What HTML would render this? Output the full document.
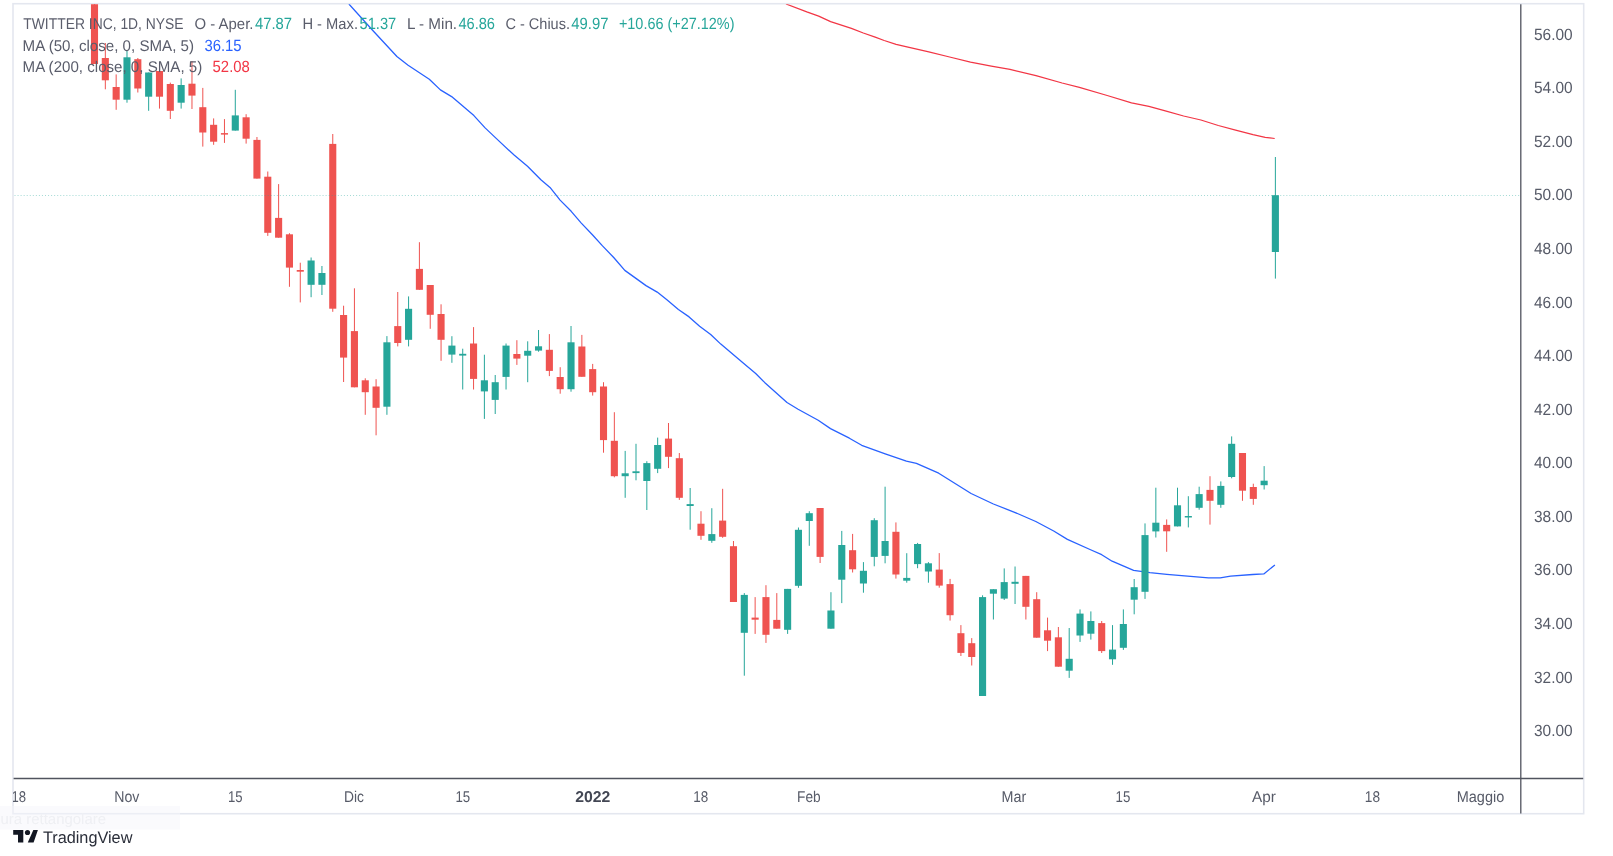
<!DOCTYPE html>
<html><head><meta charset="utf-8"><title>TWITTER INC chart</title>
<style>html,body{margin:0;padding:0;background:#fff;}body{width:1613px;height:856px;overflow:hidden;}svg{display:block;}text{font-family:"Liberation Sans",sans-serif;text-rendering:geometricPrecision;}</style></head><body>
<svg width="1613" height="856" viewBox="0 0 1613 856">
<rect x="0" y="0" width="1613" height="856" fill="#ffffff"/>
<defs><clipPath id="plot"><rect x="13.5" y="4.2" width="1506.5" height="774"/></clipPath><clipPath id="xclip"><rect x="13.6" y="779" width="1507" height="34"/></clipPath></defs>
<rect x="13" y="3.7" width="1570.7" height="810" fill="none" stroke="#e4e7ef" stroke-width="1.6"/>
<g clip-path="url(#plot)">
<polyline fill="none" stroke="#2962ff" stroke-width="1.3" stroke-linejoin="round" points="348.9,4.0 373.5,31.2 396.9,56.5 408.1,65.2 429.3,79.2 440.4,89.9 451.6,96.6 473.9,115.6 485.1,127.9 496.2,138.4 514.1,155.1 527.5,166.3 540.9,179.7 550.0,187.4 560.1,200.1 571.2,211.3 581.3,223.1 592.4,234.7 602.5,245.9 613.7,257.5 624.8,270.4 634.9,277.6 646.0,285.6 657.2,292.1 667.2,300.1 678.4,309.5 689.1,316.9 699.6,326.2 710.7,334.5 720.8,344.1 742.3,362.3 755.7,373.5 764.6,382.4 787.0,402.5 798.1,409.2 818.2,420.3 830.5,428.6 849.4,438.2 861.7,445.3 885.2,453.8 906.4,461.2 916.4,463.4 938.7,473.2 971.1,493.5 993.4,504.0 1014.6,512.3 1035.8,521.5 1053.7,531.0 1067.4,539.4 1090.0,549.5 1101.7,554.7 1112.1,561.2 1133.6,570.4 1149.9,572.6 1166.8,574.3 1187.6,576.2 1208.5,577.9 1220.2,577.9 1230.6,576.2 1252.7,574.5 1263.8,573.9 1274.9,564.9"/>
<polyline fill="none" stroke="#f23645" stroke-width="1.25" stroke-linejoin="round" points="786.0,4.0 806.8,11.9 818.7,16.1 830.6,21.6 851.4,28.3 863.3,33.0 875.2,37.2 884.2,40.5 896.1,44.3 908.0,47.2 928.8,51.8 949.6,57.0 970.5,62.2 991.3,66.2 1010.0,69.4 1036.0,75.7 1062.1,83.0 1079.4,87.3 1107.2,95.5 1131.5,102.9 1148.9,106.4 1166.2,111.1 1183.6,116.0 1200.9,120.0 1218.3,125.5 1235.6,130.2 1253.0,134.7 1265.2,137.3 1274.7,138.5"/>
<rect x="94.00" y="4.0" width="1.00" height="60.0" fill="#ef5350"/>
<rect x="90.95" y="4.0" width="7.10" height="60.0" fill="#ef5350"/>
<rect x="104.83" y="43.0" width="1.00" height="46.3" fill="#ef5350"/>
<rect x="101.78" y="58.0" width="7.10" height="22.3" fill="#ef5350"/>
<rect x="115.66" y="74.4" width="1.00" height="35.4" fill="#ef5350"/>
<rect x="112.61" y="87.0" width="7.10" height="12.7" fill="#ef5350"/>
<rect x="126.49" y="51.0" width="1.00" height="51.7" fill="#26a69a"/>
<rect x="123.44" y="57.3" width="7.10" height="42.4" fill="#26a69a"/>
<rect x="137.32" y="58.0" width="1.00" height="34.5" fill="#ef5350"/>
<rect x="134.27" y="59.2" width="7.10" height="29.3" fill="#ef5350"/>
<rect x="148.15" y="72.5" width="1.00" height="38.3" fill="#26a69a"/>
<rect x="145.10" y="72.5" width="7.10" height="24.2" fill="#26a69a"/>
<rect x="158.98" y="63.2" width="1.00" height="45.4" fill="#ef5350"/>
<rect x="155.93" y="71.0" width="7.10" height="25.7" fill="#ef5350"/>
<rect x="169.81" y="82.6" width="1.00" height="36.4" fill="#ef5350"/>
<rect x="166.76" y="84.0" width="7.10" height="26.8" fill="#ef5350"/>
<rect x="180.64" y="78.4" width="1.00" height="30.2" fill="#26a69a"/>
<rect x="177.59" y="85.0" width="7.10" height="17.7" fill="#26a69a"/>
<rect x="191.47" y="61.0" width="1.00" height="48.0" fill="#ef5350"/>
<rect x="188.42" y="83.7" width="7.10" height="11.9" fill="#ef5350"/>
<rect x="202.30" y="87.9" width="1.00" height="58.7" fill="#ef5350"/>
<rect x="199.25" y="107.2" width="7.10" height="25.3" fill="#ef5350"/>
<rect x="213.13" y="118.4" width="1.00" height="26.4" fill="#ef5350"/>
<rect x="210.08" y="124.8" width="7.10" height="16.9" fill="#ef5350"/>
<rect x="223.96" y="119.1" width="1.00" height="23.8" fill="#ef5350"/>
<rect x="220.91" y="133.1" width="7.10" height="1.5" fill="#ef5350"/>
<rect x="234.79" y="89.8" width="1.00" height="40.8" fill="#26a69a"/>
<rect x="231.74" y="115.4" width="7.10" height="15.2" fill="#26a69a"/>
<rect x="245.62" y="114.2" width="1.00" height="29.4" fill="#ef5350"/>
<rect x="242.57" y="117.3" width="7.10" height="21.4" fill="#ef5350"/>
<rect x="256.45" y="137.0" width="1.00" height="41.6" fill="#ef5350"/>
<rect x="253.40" y="139.9" width="7.10" height="38.7" fill="#ef5350"/>
<rect x="267.28" y="171.5" width="1.00" height="64.4" fill="#ef5350"/>
<rect x="264.23" y="176.7" width="7.10" height="56.1" fill="#ef5350"/>
<rect x="278.11" y="184.1" width="1.00" height="53.6" fill="#ef5350"/>
<rect x="275.06" y="217.9" width="7.10" height="19.8" fill="#ef5350"/>
<rect x="288.94" y="233.2" width="1.00" height="53.6" fill="#ef5350"/>
<rect x="285.89" y="234.3" width="7.10" height="33.3" fill="#ef5350"/>
<rect x="299.77" y="262.7" width="1.00" height="39.7" fill="#ef5350"/>
<rect x="296.72" y="270.0" width="7.10" height="1.7" fill="#ef5350"/>
<rect x="310.60" y="257.5" width="1.00" height="39.7" fill="#26a69a"/>
<rect x="307.55" y="260.5" width="7.10" height="24.3" fill="#26a69a"/>
<rect x="321.43" y="266.0" width="1.00" height="29.0" fill="#26a69a"/>
<rect x="318.38" y="273.0" width="7.10" height="11.8" fill="#26a69a"/>
<rect x="332.26" y="134.0" width="1.00" height="177.8" fill="#ef5350"/>
<rect x="329.21" y="143.9" width="7.10" height="164.8" fill="#ef5350"/>
<rect x="343.09" y="305.7" width="1.00" height="76.3" fill="#ef5350"/>
<rect x="340.04" y="315.0" width="7.10" height="42.6" fill="#ef5350"/>
<rect x="353.92" y="288.3" width="1.00" height="99.0" fill="#ef5350"/>
<rect x="350.87" y="331.1" width="7.10" height="56.2" fill="#ef5350"/>
<rect x="364.75" y="378.3" width="1.00" height="36.5" fill="#ef5350"/>
<rect x="361.70" y="380.3" width="7.10" height="11.9" fill="#ef5350"/>
<rect x="375.58" y="379.2" width="1.00" height="56.1" fill="#ef5350"/>
<rect x="372.53" y="386.5" width="7.10" height="21.3" fill="#ef5350"/>
<rect x="386.41" y="336.1" width="1.00" height="78.7" fill="#26a69a"/>
<rect x="383.36" y="342.3" width="7.10" height="64.4" fill="#26a69a"/>
<rect x="397.24" y="292.0" width="1.00" height="54.4" fill="#ef5350"/>
<rect x="394.19" y="326.1" width="7.10" height="16.9" fill="#ef5350"/>
<rect x="408.07" y="296.4" width="1.00" height="50.0" fill="#26a69a"/>
<rect x="405.02" y="308.8" width="7.10" height="31.0" fill="#26a69a"/>
<rect x="418.90" y="242.2" width="1.00" height="47.6" fill="#ef5350"/>
<rect x="415.85" y="268.9" width="7.10" height="20.9" fill="#ef5350"/>
<rect x="429.73" y="285.0" width="1.00" height="43.8" fill="#ef5350"/>
<rect x="426.68" y="285.0" width="7.10" height="29.8" fill="#ef5350"/>
<rect x="440.56" y="304.3" width="1.00" height="56.5" fill="#ef5350"/>
<rect x="437.51" y="314.0" width="7.10" height="25.8" fill="#ef5350"/>
<rect x="451.39" y="336.2" width="1.00" height="26.6" fill="#26a69a"/>
<rect x="448.34" y="345.6" width="7.10" height="9.0" fill="#26a69a"/>
<rect x="462.22" y="348.7" width="1.00" height="40.8" fill="#26a69a"/>
<rect x="459.17" y="353.8" width="7.10" height="1.8" fill="#26a69a"/>
<rect x="473.05" y="327.1" width="1.00" height="62.4" fill="#ef5350"/>
<rect x="470.00" y="343.5" width="7.10" height="35.4" fill="#ef5350"/>
<rect x="483.88" y="354.7" width="1.00" height="64.2" fill="#26a69a"/>
<rect x="480.83" y="380.3" width="7.10" height="11.1" fill="#26a69a"/>
<rect x="494.71" y="375.0" width="1.00" height="39.0" fill="#26a69a"/>
<rect x="491.66" y="382.2" width="7.10" height="17.7" fill="#26a69a"/>
<rect x="505.54" y="343.5" width="1.00" height="46.0" fill="#26a69a"/>
<rect x="502.49" y="345.6" width="7.10" height="31.3" fill="#26a69a"/>
<rect x="516.37" y="340.2" width="1.00" height="24.7" fill="#ef5350"/>
<rect x="513.32" y="354.0" width="7.10" height="4.6" fill="#ef5350"/>
<rect x="527.20" y="341.3" width="1.00" height="40.9" fill="#26a69a"/>
<rect x="524.15" y="350.8" width="7.10" height="4.9" fill="#26a69a"/>
<rect x="538.03" y="330.0" width="1.00" height="21.7" fill="#26a69a"/>
<rect x="534.98" y="346.3" width="7.10" height="4.3" fill="#26a69a"/>
<rect x="548.86" y="334.1" width="1.00" height="42.0" fill="#ef5350"/>
<rect x="545.81" y="349.8" width="7.10" height="21.1" fill="#ef5350"/>
<rect x="559.69" y="367.2" width="1.00" height="26.5" fill="#ef5350"/>
<rect x="556.64" y="377.0" width="7.10" height="12.2" fill="#ef5350"/>
<rect x="570.52" y="326.0" width="1.00" height="65.7" fill="#26a69a"/>
<rect x="567.47" y="342.3" width="7.10" height="46.9" fill="#26a69a"/>
<rect x="581.35" y="334.9" width="1.00" height="41.9" fill="#ef5350"/>
<rect x="578.30" y="346.5" width="7.10" height="30.3" fill="#ef5350"/>
<rect x="592.18" y="363.9" width="1.00" height="31.7" fill="#ef5350"/>
<rect x="589.13" y="369.1" width="7.10" height="23.1" fill="#ef5350"/>
<rect x="603.01" y="382.2" width="1.00" height="70.5" fill="#ef5350"/>
<rect x="599.96" y="386.5" width="7.10" height="53.6" fill="#ef5350"/>
<rect x="613.84" y="412.2" width="1.00" height="65.1" fill="#ef5350"/>
<rect x="610.79" y="440.8" width="7.10" height="35.4" fill="#ef5350"/>
<rect x="624.67" y="450.9" width="1.00" height="46.9" fill="#26a69a"/>
<rect x="621.62" y="473.3" width="7.10" height="2.9" fill="#26a69a"/>
<rect x="635.50" y="443.8" width="1.00" height="36.5" fill="#26a69a"/>
<rect x="632.45" y="471.3" width="7.10" height="1.8" fill="#26a69a"/>
<rect x="646.33" y="461.2" width="1.00" height="48.8" fill="#26a69a"/>
<rect x="643.28" y="463.1" width="7.10" height="17.9" fill="#26a69a"/>
<rect x="657.16" y="437.6" width="1.00" height="35.5" fill="#26a69a"/>
<rect x="654.11" y="445.0" width="7.10" height="23.8" fill="#26a69a"/>
<rect x="667.99" y="423.0" width="1.00" height="45.1" fill="#ef5350"/>
<rect x="664.94" y="438.6" width="7.10" height="18.2" fill="#ef5350"/>
<rect x="678.82" y="453.0" width="1.00" height="46.9" fill="#ef5350"/>
<rect x="675.77" y="458.2" width="7.10" height="39.6" fill="#ef5350"/>
<rect x="689.65" y="488.0" width="1.00" height="41.7" fill="#26a69a"/>
<rect x="686.60" y="504.1" width="7.10" height="1.9" fill="#26a69a"/>
<rect x="700.48" y="511.2" width="1.00" height="28.6" fill="#ef5350"/>
<rect x="697.43" y="523.7" width="7.10" height="12.1" fill="#ef5350"/>
<rect x="711.31" y="508.2" width="1.00" height="34.6" fill="#26a69a"/>
<rect x="708.26" y="534.1" width="7.10" height="6.7" fill="#26a69a"/>
<rect x="722.14" y="488.8" width="1.00" height="49.0" fill="#ef5350"/>
<rect x="719.09" y="520.6" width="7.10" height="16.2" fill="#ef5350"/>
<rect x="732.97" y="541.0" width="1.00" height="61.0" fill="#ef5350"/>
<rect x="729.92" y="546.2" width="7.10" height="55.8" fill="#ef5350"/>
<rect x="743.80" y="593.1" width="1.00" height="82.6" fill="#26a69a"/>
<rect x="740.75" y="594.9" width="7.10" height="37.9" fill="#26a69a"/>
<rect x="754.63" y="597.1" width="1.00" height="36.8" fill="#ef5350"/>
<rect x="751.58" y="617.6" width="7.10" height="2.1" fill="#ef5350"/>
<rect x="765.46" y="585.2" width="1.00" height="57.7" fill="#ef5350"/>
<rect x="762.41" y="597.1" width="7.10" height="37.7" fill="#ef5350"/>
<rect x="776.29" y="593.1" width="1.00" height="35.6" fill="#ef5350"/>
<rect x="773.24" y="619.9" width="7.10" height="8.8" fill="#ef5350"/>
<rect x="787.12" y="588.9" width="1.00" height="45.0" fill="#26a69a"/>
<rect x="784.07" y="588.9" width="7.10" height="40.9" fill="#26a69a"/>
<rect x="797.95" y="527.5" width="1.00" height="60.3" fill="#26a69a"/>
<rect x="794.90" y="529.8" width="7.10" height="56.0" fill="#26a69a"/>
<rect x="808.78" y="511.2" width="1.00" height="34.6" fill="#26a69a"/>
<rect x="805.73" y="513.2" width="7.10" height="7.8" fill="#26a69a"/>
<rect x="819.61" y="508.0" width="1.00" height="55.0" fill="#ef5350"/>
<rect x="816.56" y="508.0" width="7.10" height="48.9" fill="#ef5350"/>
<rect x="830.44" y="592.2" width="1.00" height="36.5" fill="#26a69a"/>
<rect x="827.39" y="610.5" width="7.10" height="18.2" fill="#26a69a"/>
<rect x="841.27" y="530.9" width="1.00" height="72.2" fill="#26a69a"/>
<rect x="838.22" y="545.0" width="7.10" height="34.7" fill="#26a69a"/>
<rect x="852.10" y="533.9" width="1.00" height="38.6" fill="#ef5350"/>
<rect x="849.05" y="550.2" width="7.10" height="19.1" fill="#ef5350"/>
<rect x="862.93" y="562.1" width="1.00" height="30.6" fill="#26a69a"/>
<rect x="859.88" y="570.8" width="7.10" height="12.7" fill="#26a69a"/>
<rect x="873.76" y="518.2" width="1.00" height="48.1" fill="#26a69a"/>
<rect x="870.71" y="520.2" width="7.10" height="36.7" fill="#26a69a"/>
<rect x="884.59" y="486.7" width="1.00" height="76.6" fill="#26a69a"/>
<rect x="881.54" y="541.0" width="7.10" height="14.9" fill="#26a69a"/>
<rect x="895.42" y="522.4" width="1.00" height="56.2" fill="#ef5350"/>
<rect x="892.37" y="531.8" width="7.10" height="42.7" fill="#ef5350"/>
<rect x="906.25" y="553.2" width="1.00" height="29.5" fill="#26a69a"/>
<rect x="903.20" y="577.9" width="7.10" height="2.8" fill="#26a69a"/>
<rect x="917.08" y="542.9" width="1.00" height="25.3" fill="#26a69a"/>
<rect x="914.03" y="544.0" width="7.10" height="20.1" fill="#26a69a"/>
<rect x="927.91" y="562.1" width="1.00" height="20.6" fill="#26a69a"/>
<rect x="924.86" y="563.3" width="7.10" height="8.2" fill="#26a69a"/>
<rect x="938.74" y="553.1" width="1.00" height="34.6" fill="#ef5350"/>
<rect x="935.69" y="569.6" width="7.10" height="16.0" fill="#ef5350"/>
<rect x="949.57" y="578.9" width="1.00" height="41.7" fill="#ef5350"/>
<rect x="946.52" y="584.1" width="7.10" height="31.1" fill="#ef5350"/>
<rect x="960.40" y="625.1" width="1.00" height="30.9" fill="#ef5350"/>
<rect x="957.35" y="633.2" width="7.10" height="19.7" fill="#ef5350"/>
<rect x="971.23" y="638.1" width="1.00" height="27.4" fill="#ef5350"/>
<rect x="968.18" y="643.2" width="7.10" height="13.8" fill="#ef5350"/>
<rect x="982.06" y="595.3" width="1.00" height="100.7" fill="#26a69a"/>
<rect x="979.01" y="597.1" width="7.10" height="98.9" fill="#26a69a"/>
<rect x="992.89" y="589.2" width="1.00" height="30.3" fill="#26a69a"/>
<rect x="989.84" y="589.2" width="7.10" height="4.5" fill="#26a69a"/>
<rect x="1003.72" y="568.4" width="1.00" height="31.6" fill="#26a69a"/>
<rect x="1000.67" y="582.1" width="7.10" height="16.5" fill="#26a69a"/>
<rect x="1014.55" y="566.5" width="1.00" height="37.5" fill="#26a69a"/>
<rect x="1011.50" y="581.8" width="7.10" height="2.0" fill="#26a69a"/>
<rect x="1025.38" y="575.9" width="1.00" height="43.6" fill="#ef5350"/>
<rect x="1022.33" y="575.9" width="7.10" height="30.9" fill="#ef5350"/>
<rect x="1036.21" y="592.2" width="1.00" height="45.5" fill="#ef5350"/>
<rect x="1033.16" y="599.2" width="7.10" height="38.5" fill="#ef5350"/>
<rect x="1047.04" y="617.6" width="1.00" height="33.5" fill="#ef5350"/>
<rect x="1043.99" y="630.3" width="7.10" height="10.4" fill="#ef5350"/>
<rect x="1057.87" y="627.0" width="1.00" height="39.7" fill="#ef5350"/>
<rect x="1054.82" y="637.3" width="7.10" height="29.4" fill="#ef5350"/>
<rect x="1068.70" y="628.0" width="1.00" height="49.9" fill="#26a69a"/>
<rect x="1065.65" y="658.8" width="7.10" height="11.9" fill="#26a69a"/>
<rect x="1079.53" y="609.4" width="1.00" height="32.5" fill="#26a69a"/>
<rect x="1076.48" y="613.6" width="7.10" height="21.9" fill="#26a69a"/>
<rect x="1090.36" y="611.4" width="1.00" height="28.2" fill="#26a69a"/>
<rect x="1087.31" y="621.0" width="7.10" height="12.7" fill="#26a69a"/>
<rect x="1101.19" y="621.0" width="1.00" height="32.0" fill="#ef5350"/>
<rect x="1098.14" y="623.1" width="7.10" height="28.0" fill="#ef5350"/>
<rect x="1112.02" y="625.1" width="1.00" height="39.7" fill="#26a69a"/>
<rect x="1108.97" y="649.6" width="7.10" height="9.7" fill="#26a69a"/>
<rect x="1122.85" y="609.4" width="1.00" height="40.5" fill="#26a69a"/>
<rect x="1119.80" y="624.0" width="7.10" height="23.8" fill="#26a69a"/>
<rect x="1133.68" y="579.0" width="1.00" height="35.3" fill="#26a69a"/>
<rect x="1130.63" y="587.2" width="7.10" height="12.5" fill="#26a69a"/>
<rect x="1144.51" y="523.4" width="1.00" height="75.5" fill="#26a69a"/>
<rect x="1141.46" y="535.1" width="7.10" height="56.7" fill="#26a69a"/>
<rect x="1155.34" y="487.7" width="1.00" height="49.8" fill="#26a69a"/>
<rect x="1152.29" y="522.7" width="7.10" height="8.7" fill="#26a69a"/>
<rect x="1166.17" y="519.4" width="1.00" height="32.4" fill="#ef5350"/>
<rect x="1163.12" y="524.9" width="7.10" height="6.4" fill="#ef5350"/>
<rect x="1177.00" y="487.7" width="1.00" height="38.7" fill="#26a69a"/>
<rect x="1173.95" y="505.3" width="7.10" height="21.1" fill="#26a69a"/>
<rect x="1187.83" y="496.2" width="1.00" height="31.2" fill="#26a69a"/>
<rect x="1184.78" y="516.0" width="7.10" height="1.5" fill="#26a69a"/>
<rect x="1198.66" y="486.7" width="1.00" height="23.0" fill="#26a69a"/>
<rect x="1195.61" y="494.1" width="7.10" height="13.7" fill="#26a69a"/>
<rect x="1209.49" y="476.2" width="1.00" height="48.4" fill="#ef5350"/>
<rect x="1206.44" y="489.9" width="7.10" height="10.9" fill="#ef5350"/>
<rect x="1220.32" y="481.4" width="1.00" height="26.4" fill="#26a69a"/>
<rect x="1217.27" y="485.9" width="7.10" height="18.9" fill="#26a69a"/>
<rect x="1231.15" y="436.4" width="1.00" height="41.9" fill="#26a69a"/>
<rect x="1228.10" y="443.8" width="7.10" height="33.2" fill="#26a69a"/>
<rect x="1241.98" y="453.0" width="1.00" height="47.8" fill="#ef5350"/>
<rect x="1238.93" y="453.0" width="7.10" height="37.7" fill="#ef5350"/>
<rect x="1252.81" y="483.7" width="1.00" height="21.1" fill="#ef5350"/>
<rect x="1249.76" y="487.0" width="7.10" height="11.9" fill="#ef5350"/>
<rect x="1263.64" y="466.1" width="1.00" height="23.4" fill="#26a69a"/>
<rect x="1260.59" y="480.7" width="7.10" height="4.5" fill="#26a69a"/>
<rect x="1274.87" y="157.0" width="1.00" height="121.6" fill="#26a69a"/>
<rect x="1271.82" y="195.2" width="7.10" height="56.8" fill="#26a69a"/>
<line x1="14.5" y1="195.5" x2="1520" y2="195.5" stroke="#26a69a" stroke-opacity="0.42" stroke-width="1.1" stroke-dasharray="1 2.05"/>
</g>
<line x1="1520.8" y1="4.3" x2="1520.8" y2="813.4" stroke="#50535e" stroke-width="1.3"/>
<line x1="13.6" y1="778.5" x2="1583.2" y2="778.5" stroke="#50535e" stroke-width="1.3"/>
<g opacity="0.999">
<text transform="translate(1534.00 39.60) scale(0.8100)" font-size="20" font-weight="normal" fill="#575b68" textLength="47.78" lengthAdjust="spacingAndGlyphs">56.00</text>
<text transform="translate(1534.00 93.18) scale(0.8100)" font-size="20" font-weight="normal" fill="#575b68" textLength="47.78" lengthAdjust="spacingAndGlyphs">54.00</text>
<text transform="translate(1534.00 146.76) scale(0.8100)" font-size="20" font-weight="normal" fill="#575b68" textLength="47.78" lengthAdjust="spacingAndGlyphs">52.00</text>
<text transform="translate(1534.00 200.34) scale(0.8100)" font-size="20" font-weight="normal" fill="#575b68" textLength="47.78" lengthAdjust="spacingAndGlyphs">50.00</text>
<text transform="translate(1534.00 253.92) scale(0.8100)" font-size="20" font-weight="normal" fill="#575b68" textLength="47.78" lengthAdjust="spacingAndGlyphs">48.00</text>
<text transform="translate(1534.00 307.50) scale(0.8100)" font-size="20" font-weight="normal" fill="#575b68" textLength="47.78" lengthAdjust="spacingAndGlyphs">46.00</text>
<text transform="translate(1534.00 361.08) scale(0.8100)" font-size="20" font-weight="normal" fill="#575b68" textLength="47.78" lengthAdjust="spacingAndGlyphs">44.00</text>
<text transform="translate(1534.00 414.66) scale(0.8100)" font-size="20" font-weight="normal" fill="#575b68" textLength="47.78" lengthAdjust="spacingAndGlyphs">42.00</text>
<text transform="translate(1534.00 468.24) scale(0.8100)" font-size="20" font-weight="normal" fill="#575b68" textLength="47.78" lengthAdjust="spacingAndGlyphs">40.00</text>
<text transform="translate(1534.00 521.82) scale(0.8100)" font-size="20" font-weight="normal" fill="#575b68" textLength="47.78" lengthAdjust="spacingAndGlyphs">38.00</text>
<text transform="translate(1534.00 575.40) scale(0.8100)" font-size="20" font-weight="normal" fill="#575b68" textLength="47.78" lengthAdjust="spacingAndGlyphs">36.00</text>
<text transform="translate(1534.00 628.98) scale(0.8100)" font-size="20" font-weight="normal" fill="#575b68" textLength="47.78" lengthAdjust="spacingAndGlyphs">34.00</text>
<text transform="translate(1534.00 682.56) scale(0.8100)" font-size="20" font-weight="normal" fill="#575b68" textLength="47.78" lengthAdjust="spacingAndGlyphs">32.00</text>
<text transform="translate(1534.00 736.14) scale(0.8100)" font-size="20" font-weight="normal" fill="#575b68" textLength="47.78" lengthAdjust="spacingAndGlyphs">30.00</text>
<g clip-path="url(#xclip)">
<text transform="translate(11.40 801.60) scale(0.7800)" font-size="20" font-weight="normal" fill="#575b68" textLength="18.72" lengthAdjust="spacingAndGlyphs">18</text>
<text transform="translate(114.20 801.60) scale(0.7800)" font-size="20" font-weight="normal" fill="#575b68" textLength="32.31" lengthAdjust="spacingAndGlyphs">Nov</text>
<text transform="translate(228.00 801.60) scale(0.7800)" font-size="20" font-weight="normal" fill="#575b68" textLength="18.72" lengthAdjust="spacingAndGlyphs">15</text>
<text transform="translate(344.00 801.60) scale(0.7800)" font-size="20" font-weight="normal" fill="#575b68" textLength="25.64" lengthAdjust="spacingAndGlyphs">Dic</text>
<text transform="translate(455.40 801.60) scale(0.7800)" font-size="20" font-weight="normal" fill="#575b68" textLength="18.97" lengthAdjust="spacingAndGlyphs">15</text>
<text transform="translate(575.20 801.60) scale(0.7800)" font-size="20" font-weight="bold" fill="#434754" textLength="45.13" lengthAdjust="spacingAndGlyphs">2022</text>
<text transform="translate(693.20 801.60) scale(0.7800)" font-size="20" font-weight="normal" fill="#575b68" textLength="19.23" lengthAdjust="spacingAndGlyphs">18</text>
<text transform="translate(797.10 801.60) scale(0.7800)" font-size="20" font-weight="normal" fill="#575b68" textLength="30.26" lengthAdjust="spacingAndGlyphs">Feb</text>
<text transform="translate(1001.55 801.60) scale(0.7800)" font-size="20" font-weight="normal" fill="#575b68" textLength="31.67" lengthAdjust="spacingAndGlyphs">Mar</text>
<text transform="translate(1115.50 801.60) scale(0.7800)" font-size="20" font-weight="normal" fill="#575b68" textLength="18.97" lengthAdjust="spacingAndGlyphs">15</text>
<text transform="translate(1251.95 801.60) scale(0.7800)" font-size="20" font-weight="normal" fill="#575b68" textLength="30.64" lengthAdjust="spacingAndGlyphs">Apr</text>
<text transform="translate(1364.80 801.60) scale(0.7800)" font-size="20" font-weight="normal" fill="#575b68" textLength="19.49" lengthAdjust="spacingAndGlyphs">18</text>
<text transform="translate(1456.70 801.60) scale(0.7800)" font-size="20" font-weight="normal" fill="#575b68" textLength="61.03" lengthAdjust="spacingAndGlyphs">Maggio</text>
</g>
<text transform="translate(23.30 29.00) scale(0.7750)" font-size="20" font-weight="normal" fill="#5a5d6b" textLength="206.84" lengthAdjust="spacingAndGlyphs">TWITTER INC, 1D, NYSE</text>
<text transform="translate(194.50 29.00) scale(0.7750)" font-size="20" font-weight="normal" fill="#5a5d6b" textLength="76.13" lengthAdjust="spacingAndGlyphs">O - Aper.</text>
<text transform="translate(255.00 29.00) scale(0.8100)" font-size="20" font-weight="normal" fill="#26a69a" textLength="45.80" lengthAdjust="spacingAndGlyphs">47.87</text>
<text transform="translate(302.40 29.00) scale(0.7750)" font-size="20" font-weight="normal" fill="#5a5d6b" textLength="71.74" lengthAdjust="spacingAndGlyphs">H - Max.</text>
<text transform="translate(359.50 29.00) scale(0.8100)" font-size="20" font-weight="normal" fill="#26a69a" textLength="45.43" lengthAdjust="spacingAndGlyphs">51.37</text>
<text transform="translate(406.90 29.00) scale(0.7750)" font-size="20" font-weight="normal" fill="#5a5d6b" textLength="64.77" lengthAdjust="spacingAndGlyphs">L - Min.</text>
<text transform="translate(458.40 29.00) scale(0.8100)" font-size="20" font-weight="normal" fill="#26a69a" textLength="45.19" lengthAdjust="spacingAndGlyphs">46.86</text>
<text transform="translate(505.40 29.00) scale(0.7750)" font-size="20" font-weight="normal" fill="#5a5d6b" textLength="83.35" lengthAdjust="spacingAndGlyphs">C - Chius.</text>
<text transform="translate(571.30 29.00) scale(0.8100)" font-size="20" font-weight="normal" fill="#26a69a" textLength="45.93" lengthAdjust="spacingAndGlyphs">49.97</text>
<text transform="translate(618.90 29.00) scale(0.8100)" font-size="20" font-weight="normal" fill="#26a69a" textLength="142.72" lengthAdjust="spacingAndGlyphs">+10.66 (+27.12%)</text>
<text transform="translate(22.60 51.00) scale(0.7750)" font-size="20" font-weight="normal" fill="#5a5d6b" textLength="221.16" lengthAdjust="spacingAndGlyphs">MA (50, close, 0, SMA, 5)</text>
<text transform="translate(204.40 51.00) scale(0.8100)" font-size="20" font-weight="normal" fill="#2962ff" textLength="45.93" lengthAdjust="spacingAndGlyphs">36.15</text>
<text transform="translate(22.60 72.00) scale(0.7750)" font-size="20" font-weight="normal" fill="#5a5d6b" textLength="231.74" lengthAdjust="spacingAndGlyphs">MA (200, close, 0, SMA, 5)</text>
<text transform="translate(212.60 72.00) scale(0.8100)" font-size="20" font-weight="normal" fill="#f23645" textLength="45.93" lengthAdjust="spacingAndGlyphs">52.08</text>
<rect x="0" y="806" width="180" height="23.6" fill="#f5f6fb" fill-opacity="0.5"/>
<text transform="translate(0.50 823.80) scale(0.7500)" font-size="20" font-weight="normal" fill="#eff0f4" textLength="140.67" lengthAdjust="spacingAndGlyphs">ura rettangolare</text>
<g fill="#131722"><path d="M13.2 830.1H23.3V842.6H18V834.8H13.2Z"/><circle cx="27.5" cy="832.5" r="2.6"/><path d="M33.3 830.1H37.9L33.6 842.6H27.8Z"/></g>
<text transform="translate(42.90 842.60) scale(0.8300)" font-size="20" font-weight="normal" fill="#2a2e39" textLength="107.83" lengthAdjust="spacingAndGlyphs">TradingView</text>
</g>
</svg></body></html>
